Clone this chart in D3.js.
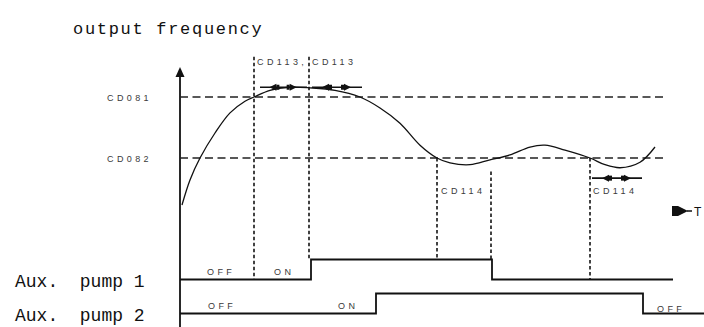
<!DOCTYPE html>
<html>
<head>
<meta charset="utf-8">
<script src="https://cdn.jsdelivr.net/npm/d3@7"></script>
<style>
  html, body { margin: 0; padding: 0; background: #fff; }
  svg { display: block; }
  .mono { font-family: "Liberation Mono", "DejaVu Sans Mono", monospace; fill: #111; white-space: pre; }
  .tag { font-family: Arial, "Liberation Sans", sans-serif; font-size: 9px; letter-spacing: 3.4px; fill: #3a3a3a; }
</style>
</head>
<body>
<svg id="chart" width="704" height="327"></svg>
<script>
// Output frequency over time (t, Hz)
const freqTime  = [0.4, 2, 4, 7, 10, 13, 14.8, 18, 22, 26, 31, 36, 40, 44, 48, 51.4, 54, 58, 62, 66, 70, 73, 77, 82, 85, 88, 92, 95];
const freqValue = [32.3, 36.4, 40, 44.1, 47.4, 49.3, 50, 51.1, 51.6, 51.5, 51.1, 50, 48.2, 45.7, 42.1, 40, 39.2, 38.9, 39.7, 40.5, 41.8, 42.1, 41.3, 40, 38.9, 38.4, 39.3, 41.8];

// Threshold parameters
const thresholdNames  = ["CD081", "CD082"];
const thresholdValues = [50, 40];

// Event instants (vertical guides) and where each guide starts/ends
const eventTimes = [14.8, 25.8, 51.4, 62.2, 82];
const eventFrom  = [56.6, 56.6, 40, 37.8, 40];       // frequency units at top end
const eventTo    = ["Aux. pump 1", "Aux. pump 1", "Aux. pump 1", "Aux. pump 1", "Aux. pump 1"];
const eventToOn  = [0, 1, 1, 1, 0];                  // end at the low or high level of pump 1

// Delay intervals
const delayNames = ["CD113", "CD113", "CD114"];
const delayStart = [16, 26.4, 82.4];
const delayEnd   = [25.4, 36.4, 92.4];
const delayLevel = [51.6, 51.6, 36.7];

// Auxiliary pump switching
const pumpNames = ["Aux. pump 1", "Aux. pump 2"];
const pump1Times  = [0, 26.2, 62.4, 98.6];
const pump1States = [0, 1, 0, 0];
const pump2Times  = [0, 39.2, 92.6, 105];
const pump2States = [0, 1, 0, 0];
const stateLabelText = ["OFF", "ON", "OFF", "ON", "OFF"];
const stateLabelPump = [0, 0, 1, 1, 1];
const stateLabelTime = [5.4, 18.8, 5.6, 31.6, 95.4];

const svg = d3.select("#chart");

const x = d3.scaleLinear().domain([0, 105]).range([180, 705]);
const y = d3.scaleLinear().domain([40, 50]).range([158, 97]);
const pumpRow = d3.scalePoint().domain(pumpNames).range([279.5, 313.5]);
const pumpLevel = d3.scaleLinear().domain([0, 1]).range([0, -20]);

// Title
svg.append("text").attr("class", "mono")
  .attr("x", 73).attr("y", 34)
  .style("font-size", "17px").style("letter-spacing", "1.7px")
  .text("output frequency");

// Vertical axis with arrowhead
svg.append("line")
  .attr("x1", x(0)).attr("x2", x(0))
  .attr("y1", 74).attr("y2", 327)
  .attr("stroke", "#111").attr("stroke-width", 1.8);
svg.append("path")
  .attr("d", `M${x(0)},67 L${x(0) - 4.5},77 L${x(0) + 4.5},77 Z`)
  .attr("fill", "#111");

// Threshold dashed lines and labels
thresholdValues.forEach((v, i) => {
  svg.append("line")
    .attr("x1", x(0)).attr("x2", x(97))
    .attr("y1", y(v)).attr("y2", y(v))
    .attr("stroke", "#222").attr("stroke-width", 1.4)
    .attr("stroke-dasharray", "8,4.5");
  svg.append("text").attr("class", "tag")
    .attr("x", 107).attr("y", y(v) + 3.5)
    .text(thresholdNames[i]);
});

// Vertical event guides
eventTimes.forEach((t, i) => {
  const yEnd = pumpRow(eventTo[i]) + pumpLevel(eventToOn[i]);
  svg.append("line")
    .attr("x1", x(t)).attr("x2", x(t))
    .attr("y1", y(eventFrom[i])).attr("y2", yEnd)
    .attr("stroke", "#222").attr("stroke-width", 1.7)
    .attr("stroke-dasharray", "3.5,2.5");
});

// Frequency curve
const line = d3.line()
  .x(d => x(d[0])).y(d => y(d[1]))
  .curve(d3.curveCatmullRom.alpha(0.5));
svg.append("path")
  .datum(freqTime.map((t, i) => [t, freqValue[i]]))
  .attr("d", line)
  .attr("fill", "none").attr("stroke", "#111").attr("stroke-width", 1.3);

// Delay interval arrows
function arrowHead(px, py, dir) {
  return `M${px},${py} L${px - dir * 7},${py - 3.5} L${px - dir * 7},${py + 3.5} Z`;
}
delayStart.forEach((s, i) => {
  const x0 = x(s), x1 = x(delayEnd[i]), yy = y(delayLevel[i]);
  const w = x1 - x0;
  svg.append("line")
    .attr("x1", x0).attr("x2", x1).attr("y1", yy).attr("y2", yy)
    .attr("stroke", "#111").attr("stroke-width", 1.6);
  svg.append("path").attr("d", arrowHead(x0 + w * 0.2, yy, -1)).attr("fill", "#111");
  svg.append("rect").attr("x", x0 + w * 0.2 + 7).attr("y", yy - 2.5).attr("width", 3).attr("height", 5).attr("fill", "#111");
  svg.append("path").attr("d", arrowHead(x0 + w * 0.78, yy, 1)).attr("fill", "#111");
  svg.append("rect").attr("x", x0 + w * 0.78 - 10).attr("y", yy - 2.5).attr("width", 3).attr("height", 5).attr("fill", "#111");
});

// Delay labels
svg.append("text").attr("class", "tag").attr("x", x(15.4)).attr("y", 65).text(delayNames[0] + ",");
svg.append("text").attr("class", "tag").attr("x", x(26.4)).attr("y", 65).text(delayNames[1]);
svg.append("text").attr("class", "tag").attr("x", x(52.2)).attr("y", 194).text(delayNames[2]);
svg.append("text").attr("class", "tag").attr("x", x(82.6)).attr("y", 194).text(delayNames[2]);

// Time axis marker
svg.append("path")
  .attr("d", `M${x(98.4)},206 L${x(99.6)},206 L${x(101.6)},211 L${x(99.6)},216 L${x(98.4)},216 Z`)
  .attr("fill", "#111");
svg.append("line")
  .attr("x1", x(101.4)).attr("x2", x(102.4)).attr("y1", 211).attr("y2", 211)
  .attr("stroke", "#111").attr("stroke-width", 1.5);
svg.append("text")
  .attr("x", 694).attr("y", 216)
  .style("font-family", "Arial, sans-serif").style("font-size", "12px").attr("fill", "#111")
  .text("T");

// Pump state step lines
const pumpSeries = [
  { name: pumpNames[0], times: pump1Times, states: pump1States },
  { name: pumpNames[1], times: pump2Times, states: pump2States }
];
const step = d3.line().curve(d3.curveStepAfter);
pumpSeries.forEach(p => {
  const pts = p.times.map((t, i) => [x(t), pumpRow(p.name) + pumpLevel(p.states[i])]);
  svg.append("path")
    .attr("d", step(pts))
    .attr("fill", "none").attr("stroke", "#111").attr("stroke-width", 1.8);
  svg.append("text").attr("class", "mono")
    .attr("x", 15).attr("y", pumpRow(p.name) + 7)
    .style("font-size", "18px")
    .text(p.name.replace(" ", "  "));
});

// State labels
stateLabelText.forEach((s, i) => {
  svg.append("text").attr("class", "tag")
    .attr("x", x(stateLabelTime[i]))
    .attr("y", pumpRow(pumpNames[stateLabelPump[i]]) - 5 + (i === 4 ? 3 : 0))
    .text(s);
});
</script>
</body>
</html>
